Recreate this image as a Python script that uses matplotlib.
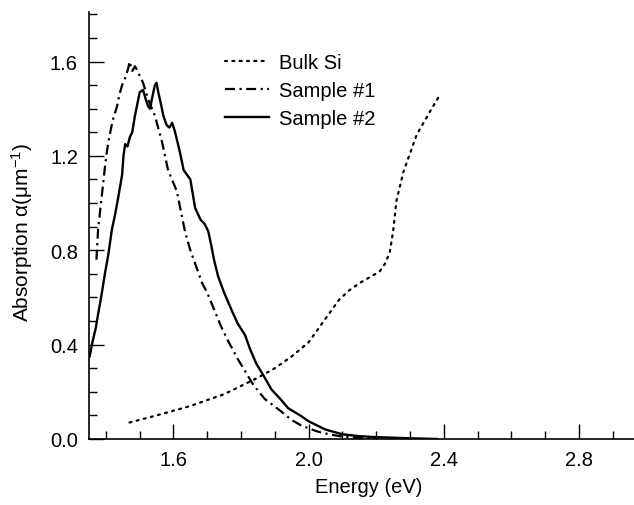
import matplotlib
matplotlib.use("Agg")
import matplotlib.pyplot as plt
from matplotlib.ticker import MultipleLocator

# -----------------------------
#  Data
# -----------------------------
bulk_e = [1.47, 1.55, 1.60, 1.65, 1.70, 1.75, 1.80, 1.85, 1.90, 1.95, 2.00, 2.03,
          2.06, 2.09, 2.12, 2.15, 2.18, 2.21, 2.225, 2.24, 2.25, 2.26, 2.28, 2.30,
          2.32, 2.34, 2.36, 2.385]
bulk_a = [0.07, 0.10, 0.12, 0.14, 0.165, 0.19, 0.225, 0.26, 0.30, 0.35, 0.41, 0.47,
          0.53, 0.59, 0.63, 0.66, 0.685, 0.71, 0.74, 0.79, 0.88, 1.01, 1.13, 1.21,
          1.29, 1.34, 1.39, 1.45]

s1_e = [1.372, 1.377, 1.387, 1.397, 1.403, 1.410, 1.420, 1.433, 1.440, 1.448, 1.457,
        1.466, 1.470, 1.478, 1.486, 1.490, 1.500, 1.510, 1.525, 1.545, 1.566, 1.584,
        1.610, 1.634, 1.650, 1.685, 1.700, 1.720, 1.740, 1.760, 1.790, 1.836, 1.870,
        1.916, 1.950, 1.975, 2.000, 2.030, 2.060, 2.100, 2.150, 2.200]
s1_a = [0.76, 0.89, 1.02, 1.15, 1.22, 1.28, 1.35, 1.41, 1.46, 1.50, 1.53,
        1.57, 1.60, 1.56, 1.58, 1.57, 1.54, 1.51, 1.44, 1.37, 1.26, 1.14,
        1.05, 0.88, 0.80, 0.66, 0.62, 0.55, 0.48, 0.42, 0.34, 0.23, 0.17,
        0.12, 0.08, 0.06, 0.045, 0.03, 0.02, 0.01, 0.005, 0.0]

s2_e = [1.352, 1.360, 1.370, 1.377, 1.387, 1.397, 1.407, 1.418, 1.427, 1.436, 1.448,
        1.452, 1.457, 1.464, 1.471, 1.478, 1.486, 1.493, 1.500, 1.510, 1.518, 1.525,
        1.531, 1.536, 1.545, 1.550, 1.555, 1.563, 1.570, 1.580, 1.588, 1.596, 1.603,
        1.610, 1.620, 1.630, 1.640, 1.650, 1.664, 1.680, 1.693, 1.703, 1.712, 1.720,
        1.732, 1.750, 1.774, 1.790, 1.812, 1.827, 1.845, 1.866, 1.890, 1.916, 1.940,
        1.975, 2.000, 2.050, 2.100, 2.150, 2.200, 2.300, 2.380]
s2_a = [0.35, 0.41, 0.47, 0.53, 0.61, 0.70, 0.78, 0.89, 0.95, 1.02, 1.12,
        1.20, 1.25, 1.24, 1.28, 1.30, 1.37, 1.42, 1.47, 1.48, 1.44, 1.41,
        1.40, 1.44, 1.50, 1.51, 1.47, 1.42, 1.37, 1.33, 1.32, 1.34, 1.31,
        1.27, 1.21, 1.14, 1.12, 1.10, 0.98, 0.93, 0.91, 0.88, 0.82, 0.76,
        0.69, 0.62, 0.54, 0.49, 0.44, 0.38, 0.32, 0.27, 0.21, 0.17, 0.13,
        0.10, 0.075, 0.04, 0.02, 0.012, 0.008, 0.003, 0.0]

labels = ["Bulk Si", "Sample #1", "Sample #2"]

# -----------------------------
#  Plot
# -----------------------------
plt.rcParams["font.family"] = ["Liberation Sans", "DejaVu Sans"]
plt.rcParams["mathtext.default"] = "regular"

FS = 14.5

fig = plt.figure(figsize=(6.34, 5.06), dpi=100)
ax = fig.add_axes([89 / 634, 66 / 506, 545 / 634, 427 / 506])

ax.plot(bulk_e, bulk_a, color="black", lw=1.6, linestyle=(0, (0.9, 2.4)),
        dash_capstyle="round", label=labels[0])
ax.plot(s1_e, s1_a, color="black", lw=1.6, linestyle=(0, (4.5, 2.0, 1.0, 2.0)),
        label=labels[1])
ax.plot(s2_e, s2_a, color="black", lw=1.7, label=labels[2])

ax.set_xlim(1.35, 2.963)
ax.set_ylim(0, 1.81)

ax.xaxis.set_major_locator(MultipleLocator(0.4))
ax.xaxis.set_minor_locator(MultipleLocator(0.1))
ax.yaxis.set_major_locator(MultipleLocator(0.4))
ax.yaxis.set_minor_locator(MultipleLocator(0.1))
ax.set_xticks([1.6, 2.0, 2.4, 2.8])
ax.set_xticklabels(["1.6", "2.0", "2.4", "2.8"])
ax.set_yticks([0.0, 0.4, 0.8, 1.2, 1.6])
ax.set_yticklabels(["0.0", "0.4", "0.8", "1.2", "1.6"])

ax.tick_params(which="major", direction="in", length=11, width=1.0,
               labelsize=FS, pad=8)
ax.tick_params(which="minor", direction="in", length=5.5, width=1.0)

for side in ["top", "right"]:
    ax.spines[side].set_visible(False)
for side in ["left", "bottom"]:
    ax.spines[side].set_linewidth(1.2)

ax.set_xlabel("Energy (eV)", fontsize=FS)
ax.xaxis.set_label_coords(0.514, -0.089)
ax.set_ylabel("Absorption α(μm$^{-1}$)", fontsize=15)
ax.yaxis.set_label_coords(-0.099, 0.487)

ax.legend(loc="upper left", bbox_to_anchor=(225 / 634, 1 - 54 / 506),
          bbox_transform=fig.transFigure, frameon=False, fontsize=FS,
          handlelength=2.2, handletextpad=0.5, labelspacing=0.45,
          borderpad=0, borderaxespad=0)

fig.savefig("out.png", dpi=100)
